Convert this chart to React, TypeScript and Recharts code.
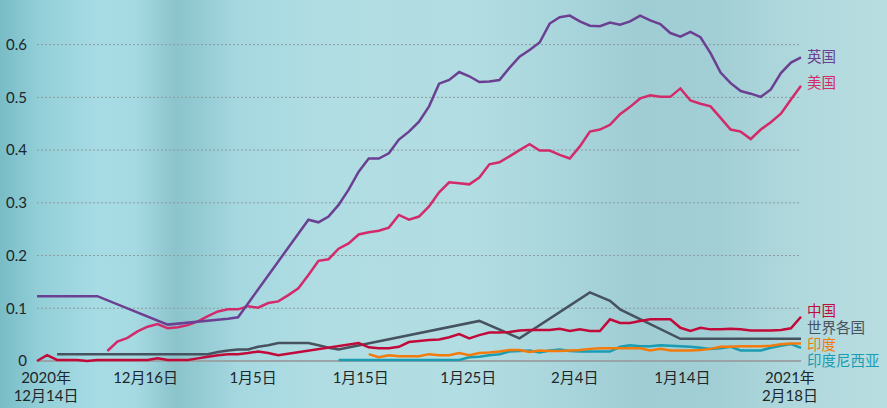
import { LineChart, Line, XAxis, YAxis, CartesianGrid, ReferenceLine, LabelList } from 'recharts';

// x positions are day steps from the first point (0..76)
const uk = [
  0.123, null, null, null, null, null, 0.123, null, null, null,
  null, null, null, 0.069, null, null, null, null, null, 0.08,
  0.083, null, null, null, null, null, null, 0.268, 0.263, 0.274,
  0.296, 0.325, 0.359, 0.384, 0.384, 0.394, 0.42, 0.435, 0.454, 0.483,
  0.526, 0.533, 0.548, 0.54, 0.529, 0.53, 0.533, 0.556, 0.577, 0.59,
  0.604, 0.64, 0.652, 0.655, 0.644, 0.636, 0.635, 0.642, 0.638, 0.644,
  0.655, 0.646, 0.639, 0.622, 0.615, 0.624, 0.614, 0.584, 0.547, 0.527,
  0.512, 0.507, 0.501, 0.515, 0.546, 0.566, 0.576,
];
const us = [
  null, null, null, null, null, null, null, 0.019, 0.037, 0.044,
  0.056, 0.065, 0.07, 0.062, 0.064, 0.068, 0.075, 0.085, 0.094, 0.098,
  0.098, 0.104, 0.101, 0.11, 0.113, 0.125, 0.138, 0.163, 0.19, 0.193,
  0.213, 0.223, 0.24, 0.244, 0.247, 0.253, 0.277, 0.268, 0.274, 0.293,
  0.32, 0.339, 0.337, 0.335, 0.348, 0.373, 0.377, 0.388, 0.4, 0.411,
  0.399, 0.399, 0.391, 0.384, 0.407, 0.435, 0.439, 0.448, 0.468, 0.482,
  0.498, 0.504, 0.501, 0.501, 0.517, 0.494, 0.488, 0.483, 0.461, 0.439,
  0.435, 0.421, 0.439, 0.453, 0.469, 0.496, 0.522,
];
const china = [
  0, 0.011, 0.002, 0.002, 0.002, 0, 0.002, 0.002, 0.002, 0.002,
  0.002, 0.002, 0.005, 0.002, 0.002, 0.002, 0.005, 0.008, 0.011, 0.013,
  0.013, 0.015, 0.018, 0.015, 0.011, null, null, null, null, null,
  null, null, 0.034, 0.026, 0.024, 0.024, 0.027, 0.036, 0.038, 0.04,
  0.041, 0.045, 0.051, 0.043, 0.049, 0.054, 0.054, 0.055, 0.058, 0.059,
  0.059, 0.059, 0.061, 0.057, 0.06, 0.057, 0.057, 0.079, 0.072, 0.072,
  0.076, 0.079, 0.079, 0.079, 0.063, 0.057, 0.063, 0.06, 0.06, 0.061,
  0.06, 0.058, 0.058, 0.058, 0.059, 0.062, 0.084,
];
const world = [
  null, null, 0.013, null, null, null, null, null, null, null,
  null, null, null, null, null, null, null, 0.013, 0.017, 0.02,
  0.022, 0.022, 0.027, 0.03, 0.034, null, null, 0.034, 0.03, 0.025,
  0.022, null, null, null, null, null, null, null, null, null,
  null, null, null, null, 0.076, null, null, null, 0.043, null,
  null, null, null, null, null, 0.13, null, 0.114, 0.098, null,
  null, null, null, null, 0.042, null, null, null, null, null,
  null, null, null, null, null, null, 0.042,
];
const india = [
  null, null, null, null, null, null, null, null, null, null,
  null, null, null, null, null, null, null, null, null, null,
  null, null, null, null, null, null, null, null, null, null,
  null, null, null, 0.013, 0.007, 0.011, 0.009, 0.009, 0.009, 0.013,
  0.011, 0.011, 0.015, 0.011, 0.015, 0.016, 0.018, 0.021, 0.021, 0.017,
  0.02, 0.019, 0.019, 0.02, 0.021, 0.023, 0.024, 0.024, 0.024, 0.024,
  0.024, 0.02, 0.023, 0.02, 0.02, 0.02, 0.021, 0.023, 0.027, 0.027,
  0.028, 0.028, 0.028, 0.029, 0.032, 0.033, 0.033,
];
const indonesia = [
  null, null, null, null, null, null, null, null, null, null,
  null, null, null, null, null, null, null, null, null, null,
  null, null, null, null, null, null, null, null, null, null,
  0.002, null, null, null, null, null, null, null, null, null,
  null, null, 0.002, 0.007, 0.008, 0.011, 0.013, 0.018, 0.019, 0.02,
  0.016, 0.02, 0.022, 0.019, 0.018, 0.018, 0.018, 0.018, 0.027, 0.03,
  0.028, 0.028, 0.03, 0.029, 0.028, 0.027, 0.025, 0.023, 0.024, 0.027,
  0.02, 0.02, 0.02, 0.025, 0.029, 0.032, 0.025,
];

const tickDays = [0.9, 10.8, 21.5, 32.2, 42.9, 53.5, 64.2, 74.9];
const tickLabels = [
  ['2020年', '12月14日'],
  ['12月16日'],
  ['1月5日'],
  ['1月15日'],
  ['1月25日'],
  ['2月4日'],
  ['1月14日'],
  ['2021年', '2月18日'],
];
const yTicks = [0, 0.1, 0.2, 0.3, 0.4, 0.5, 0.6];
const gridLines = [0.1, 0.2, 0.3, 0.4, 0.5, 0.6];

const data = uk.map((v, i) => ({
  day: i,
  uk: v,
  us: us[i],
  china: china[i],
  world: world[i],
  india: india[i],
  indonesia: indonesia[i],
}));

const FONT = "Lato, 'Noto Sans CJK SC', sans-serif";

const XTick = (props: any) => {
  const { x, y, index } = props;
  const lines = tickLabels[index] || [];
  return (
    <text x={x} y={y} textAnchor="middle" fontFamily={FONT} fontSize={15} fill="#1d2629">
      {lines.map((l: string, j: number) => (
        <tspan key={j} x={x} dy={j === 0 ? 14 : 18}>{l}</tspan>
      ))}
    </text>
  );
};

const endLabel = (name: string, color: string, dy: number) => (props: any) => {
  const { x, y, index } = props;
  if (index !== uk.length - 1) return null;
  return (
    <text x={x + 6} y={y + dy} dy={5} fontFamily={FONT} fontSize={14.5} fill={color}>
      {name}
    </text>
  );
};

const series = [
  { key: 'world', name: '世界各国', color: '#47525f', dy: -10.5 },
  { key: 'indonesia', name: '印度尼西亚', color: '#1a9cb2', dy: 13.5 },
  { key: 'india', name: '印度', color: '#f27b0c', dy: 1 },
  { key: 'china', name: '中国', color: '#c20a3a', dy: -5.5 },
  { key: 'us', name: '美国', color: '#d22a6a', dy: -3 },
  { key: 'uk', name: '英国', color: '#6b4092', dy: 0 },
];

export default function App() {
  return (
    <div
      style={{
        position: 'absolute',
        left: 0,
        top: 0,
        width: 887,
        height: 408,
        overflow: 'hidden',
        background:
          'linear-gradient(90deg, #78bcc6 0px, #93cfd8 40px, #a8dce5 100px, #a6dae3 135px, #8cc4cc 175px, #94cbd3 200px, #a6d8e0 240px, #b0dde3 320px, #b2dde2 470px, #a9d6dc 560px, #9fcdd3 640px, #a2cfd5 720px, #b0d9dd 800px, #b8dde0 887px)',
      }}
    >
      <LineChart
        width={887}
        height={408}
        data={data}
        margin={{ top: 13, right: 86, bottom: 0, left: 0 }}
      >
        <CartesianGrid
          horizontal
          vertical={false}
          horizontalValues={gridLines}
          stroke="#8b9c9f"
          strokeDasharray="2 2"
        />
        <XAxis
          dataKey="day"
          type="number"
          domain={[0, 76]}
          ticks={tickDays}
          tick={<XTick />}
          tickLine={false}
          axisLine={false}
          height={47}
          interval={0}
        />
        <YAxis
          domain={[0, 0.66]}
          ticks={yTicks}
          width={37}
          tickLine={false}
          axisLine={false}
          tickMargin={4}
          tick={{ fontFamily: FONT, fontSize: 15, fill: '#1d2629' }}
          tickFormatter={(v: number) => String(v)}
        />
        <ReferenceLine y={0} stroke="#9aa3a5" strokeWidth={2} />
        {series.map((s) => (
          <Line
            key={s.key}
            dataKey={s.key}
            type="linear"
            stroke={s.color}
            strokeWidth={2.5}
            dot={false}
            connectNulls
            isAnimationActive={false}
          >
            <LabelList dataKey={s.key} content={endLabel(s.name, s.color, s.dy)} />
          </Line>
        ))}
      </LineChart>
    </div>
  );
}
